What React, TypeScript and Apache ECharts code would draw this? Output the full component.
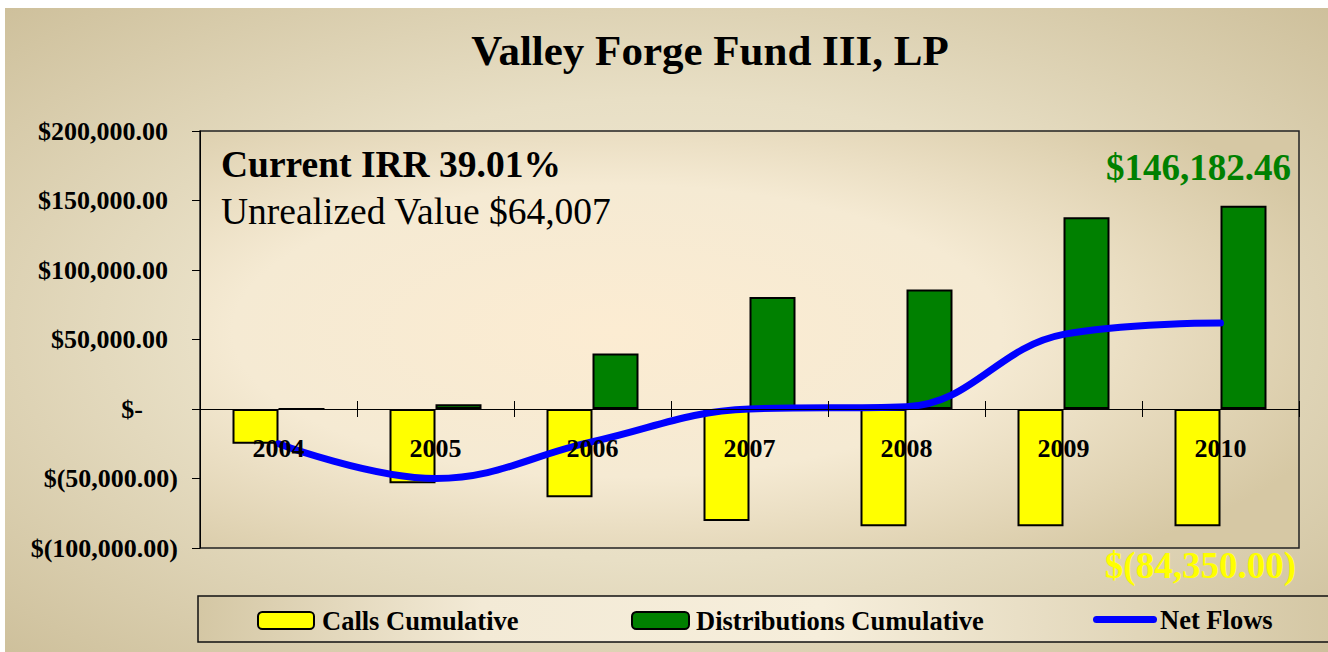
import React, { useEffect, useRef } from "react";
import * as echarts from "echarts";

const categories = ["2004", "2005", "2006", "2007", "2008", "2009", "2010"];
const callsCumulative = [-25000, -53500, -63500, -80500, -84350, -84350, -84350];
const distributionsCumulative = [0, 3500, 40000, 80500, 86000, 138000, 146182.46];
const netFlows = [-25000, -50000, -23500, 0, 1650, 53650, 61832.46];
const yMin = -100000;
const yMax = 200000;
const yInterval = 50000;

const titleText = "Valley Forge Fund III, LP";
const irrText = "Current IRR 39.01%";
const unrealizedText = "Unrealized Value $64,007";
const maxDistLabel = "$146,182.46";
const minCallLabel = "$(84,350.00)";

const FONT = "'Liberation Serif', 'Times New Roman', serif";

function fmtMoney(v: number): string {
  const s = Math.abs(v).toLocaleString("en-US", { minimumFractionDigits: 2, maximumFractionDigits: 2 });
  if (v === 0) return "{z|$-}";
  return v > 0 ? `{p|$${s}}` : `{n|$(${s})}`;
}

const richFont = { fontFamily: FONT, fontWeight: "bold" as const, fontSize: 26, color: "#000" };

export default function App() {
  const ref = useRef<HTMLDivElement>(null);
  useEffect(() => {
    if (!ref.current) return;
    const chart = echarts.init(ref.current, null, { renderer: "svg" });
    const legendText = { fontFamily: FONT, fontWeight: "bold" as const, fontSize: 26.5, color: "#000" };
    chart.setOption({
      animation: false,
      graphic: [
        {
          type: "rect",
          z: -10,
          silent: true,
          shape: { x: 5, y: 8, width: 1323, height: 644 },
          style: {
            fill: {
              type: "radial", x: 0.5, y: 0.5, r: 0.72,
              colorStops: [
                { offset: 0, color: "#f4ecd9" },
                { offset: 0.5, color: "#e8dfc5" },
                { offset: 1, color: "#cdbf9a" },
              ],
            },
          },
        },
        {
          type: "rect",
          z: -5,
          silent: true,
          shape: { x: 198, y: 596, width: 1135, height: 46 },
          style: {
            fill: {
              type: "linear", x: 0, y: 0, x2: 1, y2: 0,
              colorStops: [
                { offset: 0, color: "#d4c7a4" },
                { offset: 0.25, color: "#f3ead6" },
                { offset: 0.55, color: "#f6eedb" },
                { offset: 1, color: "#d4c7a4" },
              ],
            },
            stroke: "#111",
            lineWidth: 1.5,
          },
        },
        {
          type: "text",
          z: 20,
          x: 710,
          y: 50,
          style: { text: titleText, font: `bold 43px ${FONT}`, fill: "#000", textAlign: "center", textVerticalAlign: "middle" },
        },
        {
          type: "text",
          z: 20,
          x: 221,
          y: 164,
          style: { text: irrText, font: `bold 37.5px ${FONT}`, fill: "#000", textAlign: "left", textVerticalAlign: "middle" },
        },
        {
          type: "text",
          z: 20,
          x: 221,
          y: 211,
          style: { text: unrealizedText, font: `37.5px ${FONT}`, fill: "#000", textAlign: "left", textVerticalAlign: "middle" },
        },
        {
          type: "text",
          z: 20,
          x: 1291,
          y: 167,
          style: { text: maxDistLabel, font: `bold 37px ${FONT}`, fill: "#008000", textAlign: "right", textVerticalAlign: "middle" },
        },
        {
          type: "text",
          z: 20,
          x: 1296,
          y: 565,
          style: { text: minCallLabel, font: `bold 37px ${FONT}`, fill: "#ffff00", textAlign: "right", textVerticalAlign: "middle" },
        },
      ],
      grid: [
        {
          left: 200,
          top: 131,
          width: 1099,
          height: 417,
          show: true,
          backgroundColor: {
            type: "radial", x: 0.38, y: 0.48, r: 0.7,
            colorStops: [
              { offset: 0, color: "#fcecd2" },
              { offset: 0.5, color: "#f5ead3" },
              { offset: 1, color: "#d6c8a4" },
            ],
          },
          borderColor: "#222",
          borderWidth: 1.5,
        },
        {
          left: 200,
          top: 131,
          width: 1099,
          height: 278,
          show: false,
        },
      ],
      legend: [
        {
          data: ["Calls Cumulative"],
          left: 257, top: 607, padding: 0,
          itemWidth: 56, itemHeight: 17,
          textStyle: { ...legendText, padding: [0, 0, 0, 3] },
        },
        {
          data: ["Distributions Cumulative"],
          left: 631, top: 607, padding: 0,
          itemWidth: 57, itemHeight: 17,
          textStyle: { ...legendText, padding: [0, 0, 0, 2] },
        },
        {
          data: [{ name: "Net Flows", icon: "path://M3.5,0 L60.5,0 A3.5,3.5 0 0 1 60.5,7 L3.5,7 A3.5,3.5 0 0 1 3.5,0 Z" }],
          left: 1093, top: 606, padding: 0,
          itemWidth: 64, itemHeight: 7,
          textStyle: { ...legendText, padding: [2, 0, 0, -2] },
        },
      ],
      xAxis: [
        {
          type: "category",
          data: categories,
          gridIndex: 0,
          position: "bottom",
          z: 10,
          axisLine: { show: true, onZero: true, onZeroAxisIndex: 0, lineStyle: { color: "#000", width: 1 } },
          axisTick: { show: true, inside: false, length: 8, lineStyle: { color: "#000" } },
          axisLabel: { show: false },
          splitLine: { show: false },
        },
        {
          type: "category",
          data: categories,
          gridIndex: 0,
          position: "top",
          z: 10,
          axisLine: { show: true, onZero: true, onZeroAxisIndex: 0, lineStyle: { color: "#000", width: 1 } },
          axisTick: { show: true, inside: false, length: 8, lineStyle: { color: "#000" } },
          axisLabel: { show: false },
          splitLine: { show: false },
        },
        {
          type: "category",
          data: categories,
          gridIndex: 1,
          position: "bottom",
          z: 12,
          axisLine: { show: false, onZero: false },
          axisTick: { show: false },
          axisLabel: { show: true, margin: 26, fontFamily: FONT, fontWeight: "bold", fontSize: 26, color: "#000" },
          splitLine: { show: false },
        },
      ],
      yAxis: [
        {
          type: "value",
          gridIndex: 0,
          min: yMin,
          max: yMax,
          interval: yInterval,
          axisLine: { show: true, lineStyle: { color: "#000", width: 1 } },
          axisTick: { show: true, inside: false, length: 8, lineStyle: { color: "#000" } },
          splitLine: { show: false },
          axisLabel: {
            margin: 22,
            formatter: fmtMoney,
            rich: {
              p: { ...richFont, padding: [0, 10, 0, 0] },
              z: { ...richFont, padding: [0, 35, 0, 0] },
              n: { ...richFont },
            },
          },
        },
        {
          type: "value",
          gridIndex: 1,
          min: 0,
          max: 1,
          show: false,
          axisLine: { show: false, onZero: false },
          splitLine: { show: false },
        },
      ],
      series: [
        {
          name: "Calls Cumulative",
          type: "bar",
          data: callsCumulative,
          xAxisIndex: 0,
          yAxisIndex: 0,
          barWidth: 46,
          barGap: "0%",
          itemStyle: { color: "#ffff00", borderColor: "#000", borderWidth: 2 },
        },
        {
          name: "Distributions Cumulative",
          type: "bar",
          data: distributionsCumulative,
          xAxisIndex: 0,
          yAxisIndex: 0,
          barWidth: 46,
          barGap: "0%",
          itemStyle: { color: "#008000", borderColor: "#000", borderWidth: 2 },
        },
        {
          name: "Net Flows",
          type: "line",
          data: netFlows,
          xAxisIndex: 0,
          yAxisIndex: 0,
          smooth: 0.4,
          symbol: "none",
          z: 5,
          lineStyle: { color: "#0000ff", width: 7, cap: "round" },
          itemStyle: { color: "#0000ff" },
        },
      ],
    });
    return () => chart.dispose();
  }, []);
  return (
    <div
      ref={ref}
      style={{ position: "absolute", left: 0, top: 0, width: 1328, height: 652, background: "#fff" }}
    />
  );
}
